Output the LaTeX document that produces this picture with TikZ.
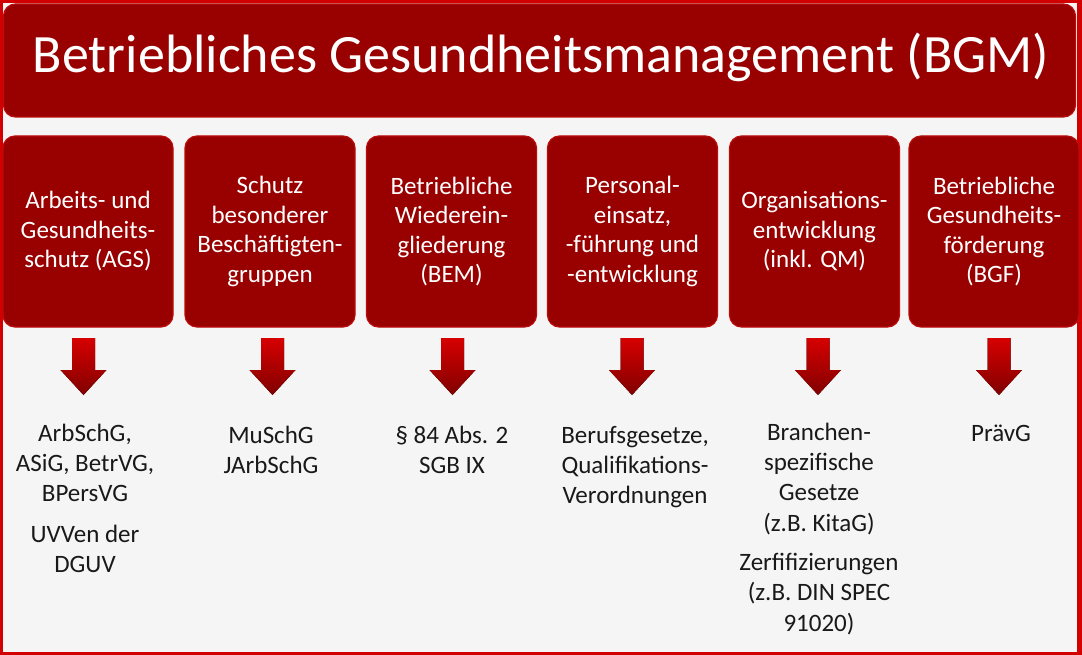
\documentclass[tikz,border=0pt]{standalone}
\usepackage{fontspec}
\setmainfont{Carlito}
\definecolor{framered}{RGB}{210,0,0}
\definecolor{boxred}{RGB}{153,0,0}
\definecolor{boxedge}{RGB}{185,12,12}
\definecolor{bggray}{RGB}{245,245,245}
\definecolor{arrtop}{RGB}{215,0,0}
\definecolor{arrbot}{RGB}{128,0,0}
\definecolor{txtdark}{RGB}{25,25,25}
\begin{document}
\begin{tikzpicture}[x=1pt,y=-1pt,
  card/.style={draw=boxedge, line width=1.2pt, fill=boxred, rounded corners=12pt,
    minimum width=170pt, minimum height=191pt, inner sep=0pt, align=center,
    text=white, font=\fontsize{25}{29.5}\selectfont},
  lowtext/.style={anchor=north, inner sep=0pt, align=center, text=txtdark,
    font=\fontsize{25}{30.3}\selectfont},
  downarrow/.pic={\fill[top color=arrtop, bottom color=arrbot]
    (-11.5,0) -- (11.5,0) -- (11.5,32) -- (23,32) -- (0,57) -- (-23,32) -- (-11.5,32) -- cycle;}
]
\useasboundingbox (0,0) rectangle (1082,655);
% frame and background
\fill[framered] (0,0) rectangle (1082,655);
\fill[bggray] (3,3) rectangle (1077,652);
% title
\node[draw=boxedge, line width=1.2pt, fill=boxred, rounded corners=12pt,
  minimum width=1072pt, minimum height=113pt, inner sep=0pt] (titlebox) at (539.5,60.5) {};
\node[anchor=base, text=white, inner sep=0pt, font=\fontsize{54}{60}\selectfont] (titletext) at (541,73)
  {Betriebliches Gesundheitsmanagement (BGM)};
% cards
\node[card] (b1) at (88,231.5) {Arbeits- und\\Gesundheits-\\schutz (AGS)};
\node[card] (b2) at (270,231.5) {Schutz\\besonderer\\Beschäftigten-\\gruppen};
\node[card] (b3) at (451.5,231.5) {Betriebliche\\Wiederein-\\gliederung\\(BEM)};
\node[card] (b4) at (632.5,231.5) {Personal-\\einsatz,\\-führung und\\-entwicklung};
\node[card] (b5) at (814.5,231.5) {Organisations-\\entwicklung\\(inkl. QM)};
\node[card] (b6) at (994,231.5) {Betriebliche\\Gesundheits-\\förderung\\(BGF)};
% arrows
\pic at (83.5,338) {downarrow};
\pic at (272.5,338) {downarrow};
\pic at (452.5,338) {downarrow};
\pic at (632,338) {downarrow};
\pic at (818,338) {downarrow};
\pic at (999,338) {downarrow};
% lower texts
\node[lowtext] (t1) at (85,420) {\rule{0pt}{21pt}ArbSchG,\\ASiG, BetrVG,\\BPersVG\\[10pt]UVVen der\\DGUV};
\node[lowtext] (t2) at (271,422) {\rule{0pt}{21pt}MuSchG\\JArbSchG};
\node[lowtext] (t3) at (452,422) {\rule{0pt}{21pt}§ 84 Abs. 2\\SGB IX};
\node[lowtext] (t4) at (635,422) {\rule{0pt}{21pt}Berufsgesetze,\\Qualifikations-\\Verordnungen};
\node[lowtext] (t5) at (819,419) {\rule{0pt}{21pt}Branchen-\\spezifische\\Gesetze\\(z.B. KitaG)\\[9pt]Zerfifizierungen\\(z.B. DIN SPEC\\91020)};
\node[lowtext] (t6) at (1001,420) {\rule{0pt}{21pt}PrävG};
\end{tikzpicture}
\end{document}
